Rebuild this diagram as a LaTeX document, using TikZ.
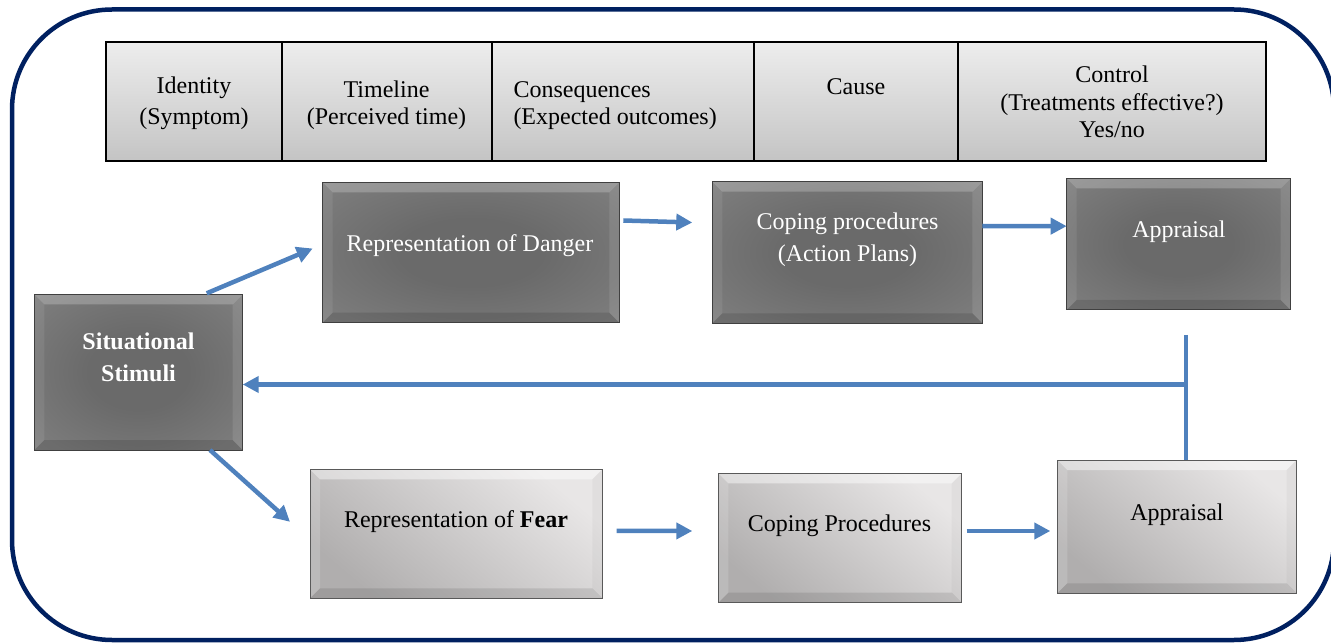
\documentclass[tikz,border=0pt]{standalone}
\usepackage{fontspec}
\setmainfont{Liberation Serif}
\usetikzlibrary{arrows.meta,calc}

\definecolor{framenavy}{HTML}{002060}
\definecolor{flowblue}{HTML}{4F81BD}
\definecolor{cellTop}{HTML}{EDEDED}
\definecolor{cellBot}{HTML}{C4C4C4}
\definecolor{darkIn}{HTML}{6A6A6A}
\definecolor{darkOut}{HTML}{8C8C8C}
\definecolor{lightTop}{HTML}{E8E6E6}
\definecolor{lightBot}{HTML}{B0AEAE}
\pgfdeclareradialshading{darkface}{\pgfpoint{0bp}{0bp}}{color(0bp)=(darkIn); color(12bp)=(darkIn); color(50bp)=(darkOut)}
\newcommand\bevelw{10pt}

\tikzset{
  cell/.style={draw=black, line width=2pt, top color=cellTop, bottom color=cellBot,
    minimum height=118.5pt, inner sep=0pt, outer sep=0pt},
  celltext/.style={anchor=base, inner sep=0pt},
  bevel/.style n args={4}{path picture={
    \fill[#1] (path picture bounding box.north west) -- (path picture bounding box.north east)
      -- ([xshift=-\bevelw,yshift=-\bevelw]path picture bounding box.north east)
      -- ([xshift=\bevelw,yshift=-\bevelw]path picture bounding box.north west) -- cycle;
    \fill[#2] (path picture bounding box.north west) -- (path picture bounding box.south west)
      -- ([xshift=\bevelw,yshift=\bevelw]path picture bounding box.south west)
      -- ([xshift=\bevelw,yshift=-\bevelw]path picture bounding box.north west) -- cycle;
    \fill[#3] (path picture bounding box.north east) -- (path picture bounding box.south east)
      -- ([xshift=-\bevelw,yshift=\bevelw]path picture bounding box.south east)
      -- ([xshift=-\bevelw,yshift=-\bevelw]path picture bounding box.north east) -- cycle;
    \fill[#4] (path picture bounding box.south west) -- (path picture bounding box.south east)
      -- ([xshift=-\bevelw,yshift=\bevelw]path picture bounding box.south east)
      -- ([xshift=\bevelw,yshift=\bevelw]path picture bounding box.south west) -- cycle;
  }},
  darkbox/.style={draw=black!75, line width=1pt, shading=darkface, inner sep=0pt, outer sep=0pt,
    bevel={white,opacity=.22}{white,opacity=.08}{white,opacity=.10}{black,opacity=.12}},
  lightbox/.style={draw=black!65, line width=1pt, top color=lightTop, bottom color=lightBot,
    shading angle=-40, inner sep=0pt, outer sep=0pt,
    bevel={white,opacity=.45}{white,opacity=.15}{black,opacity=.03}{black,opacity=.10}},
  darktext/.style={anchor=base, inner sep=0pt, text=white},
  lighttext/.style={anchor=base, inner sep=0pt, text=black},
  flow/.style={draw=flowblue, line width=4.5pt, -{Triangle[length=16pt,width=16pt]}},
  feed/.style={draw=flowblue, line width=4.5pt},
}

\begin{document}
\begin{tikzpicture}[x=1pt, y=-1pt, font=\fontsize{24}{28}\selectfont]
\useasboundingbox (0,0) rectangle (1331,644);

% outer frame
\draw[framenavy, line width=4.5pt, rounded corners=100pt] (12,9.5) rectangle (1334,640);

% illness-representation attributes
\node[cell, minimum width=176pt]   (identity)     at (194,101.75) {};
\node[cell, minimum width=209.7pt] (timeline)     at (386.85,101.75) {};
\node[cell, minimum width=262.3pt] (consequences) at (622.85,101.75) {};
\node[cell, minimum width=204.3pt] (cause)        at (856.15,101.75) {};
\node[cell, minimum width=307.7pt] (control)      at (1112.15,101.75) {};

\node[celltext] (identityA) at (194,93.5) {Identity};
\node[celltext] (identityB) at (194,125) {(Symptom)};
\node[celltext] (timelineA) at (386.5,97.7) {Timeline};
\node[celltext] (timelineB) at (386.5,125) {(Perceived time)};
\node[celltext, anchor=base west] (consequencesA) at (513.3,97.7) {Consequences};
\node[celltext, anchor=base west] (consequencesB) at (513.3,125) {(Expected outcomes)};
\node[celltext] (causeA) at (856,95) {Cause};
\node[celltext] (controlA) at (1112,83) {Control};
\node[celltext] (controlB) at (1112,111) {(Treatments effective?)};
\node[celltext] (controlC) at (1112,138) {Yes/no};

% process boxes
\node[darkbox, minimum width=208.4pt, minimum height=155.7pt] (stim)    at (138.5,372.15) {};
\node[darkbox, minimum width=296.6pt, minimum height=140.4pt] (danger)  at (471,252.5) {};
\node[darkbox, minimum width=270pt,   minimum height=141.6pt] (coping)  at (847.3,252.5) {};
\node[darkbox, minimum width=224pt,   minimum height=131.7pt] (apprtop) at (1178.7,244.15) {};
\node[lightbox, minimum width=292.3pt, minimum height=129pt]  (fear)    at (456.15,533.8) {};
\node[lightbox, minimum width=243.4pt, minimum height=129.4pt] (copingb) at (840,538) {};
\node[lightbox, minimum width=239.4pt, minimum height=133.3pt] (apprbot) at (1177,526.65) {};

\node[darktext] (stimA) at (138.5,350) {\textbf{Situational}};
\node[darktext] (stimB) at (138.5,381.7) {\textbf{Stimuli}};
\node[darktext] (dangerA) at (470,251.7) {Representation of Danger};
\node[darktext] (copingA) at (847.5,230) {Coping procedures};
\node[darktext] (copingB) at (847.5,261.7) {(Action Plans)};
\node[darktext] (apprtopA) at (1179,238) {Appraisal};
\node[lighttext] (fearA) at (456,527) {Representation of \textbf{Fear}};
\node[lighttext] (copingbA) at (839.5,531.7) {Coping Procedures};
\node[lighttext] (apprbotA) at (1177,520) {Appraisal};

% connectors
\draw[flow] ($(stim.north east)+(-36,-1)$) -- ($(danger.west)+(-10,-4)$);
\draw[flow] ($(stim.south east)+(-32.7,0)$) -- ($(fear.west)+(-20,-12)$);
\draw[flow] ($(danger.east)+(4,-32)$) -- ($(coping.west)+(-20,-30)$);
\draw[flow] ($(coping.east)+(0,-26.5)$) -- ($(apprtop.west)+(0,-18)$);
\draw[flow] ($(fear.east)+(14.4,-3)$) -- ($(copingb.west)+(-26,-7)$);
\draw[flow] ($(copingb.east)+(5,-7)$) -- ($(apprbot.west)+(-7,4.35)$);

% feedback from the appraisals to the stimuli
\coordinate (fbtop)  at (1186,335);
\coordinate (fbjoin) at (1186,384.5);
\draw[feed] (fbtop) -- (fbtop |- apprbot.north);
\draw[flow] (fbjoin) -- (stim.east |- fbjoin);
\end{tikzpicture}
\end{document}
